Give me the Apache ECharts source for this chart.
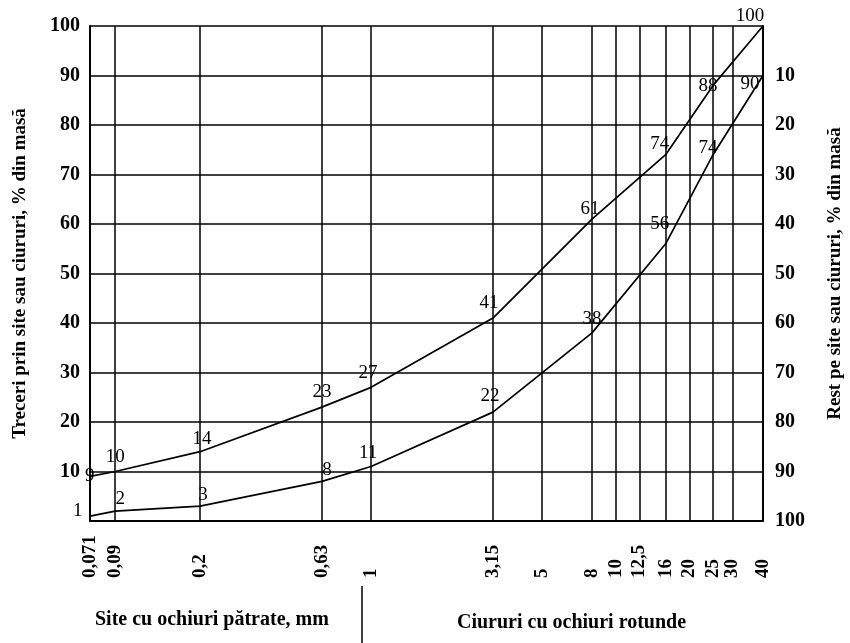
<!DOCTYPE html>
<html>
<head>
<meta charset="utf-8">
<script src="https://cdn.jsdelivr.net/npm/echarts@6/dist/echarts.min.js"></script>
<style>
  html, body { margin: 0; padding: 0; background: #fff; }
  #chart { width: 850px; height: 643px; }
</style>
</head>
<body>
<div id="chart"></div>
<script>
// Sieve openings drawn as vertical grid lines, with their printed labels
const sieveSizes = [0.071, 0.09, 0.2, 0.63, 1, 3.15, 5, 8, 10, 12.5, 16, 20, 25, 30, 40];
const sieveLabels = ['0,071', '0,09', '0,2', '0,63', '1', '3,15', '5', '8', '10', '12,5', '16', '20', '25', '30', '40'];

// Grading limits: sieve size (mm) and passing percentage
const curveSizes = [0.071, 0.09, 0.2, 0.63, 1, 3.15, 8, 16, 25, 40];
const upperPassing = [9, 10, 14, 23, 27, 41, 61, 74, 88, 100];
const lowerPassing = [1, 2, 3, 8, 11, 22, 38, 56, 74, 90];

// Percentage ticks, shared by both vertical axes
const percentMin = 0;
const percentMax = 100;
const percentStep = 10;

// Where each point's value label sits: [position, dx, dy]
const upperLabelPlace = [
  ['left', 6, 0], ['top', 0, -3], ['top', 2, -2], ['top', 0, -4], ['top', -3, -3],
  ['top', -4, -4], ['top', -2, 1], ['top', -6, 0], ['top', -5, 12], ['top', -13, 1]
];
const lowerLabelPlace = [
  ['left', -6, -5], ['top', 5, -1], ['top', 3, 0], ['top', 5, 0], ['top', -3, -3],
  ['top', -3, -5], ['top', 0, -3], ['top', -6, -9], ['top', -5, 4], ['left', -2, 9]
];

const SERIF = '"Liberation Serif", "DejaVu Serif", serif';

function labelFor(value) {
  let best = 0;
  for (let i = 1; i < sieveSizes.length; i++) {
    if (Math.abs(Math.log(sieveSizes[i] / value)) < Math.abs(Math.log(sieveSizes[best] / value))) best = i;
  }
  return sieveLabels[best];
}

function curveData(values, places) {
  return curveSizes.map((x, i) => ({
    value: [x, values[i]],
    label: {
      show: true,
      position: places[i][0],
      distance: 1,
      offset: [places[i][1], places[i][2]],
      fontFamily: SERIF,
      fontSize: 19,
      color: '#000',
      formatter: String(values[i])
    }
  }));
}

function curveSeries(name, values, places) {
  return {
    name: name,
    type: 'line',
    data: curveData(values, places),
    showSymbol: true,
    symbol: 'circle',
    symbolSize: 1,
    itemStyle: { color: '#000' },
    lineStyle: { color: '#000', width: 1.7 },
    label: { show: true, fontFamily: SERIF, fontSize: 19, color: '#000' },
    z: 5
  };
}

const chart = echarts.init(document.getElementById('chart'), null, { renderer: 'canvas' });

const option = {
  backgroundColor: '#ffffff',
  animation: false,
  grid: { left: 90, right: 87, top: 26, bottom: 122, show: false, outerBoundsMode: 'none', containLabel: false },
  xAxis: {
    type: 'log',
    logBase: 10,
    min: sieveSizes[0],
    max: sieveSizes[sieveSizes.length - 1],
    axisLine: { show: true, onZero: false, lineStyle: { color: '#000', width: 2 } },
    axisTick: { show: false, customValues: sieveSizes },
    splitLine: { show: false },
    minorSplitLine: { show: false },
    axisLabel: {
      customValues: sieveSizes,
      rotate: 90,
      align: 'left',
      verticalAlign: 'middle',
      margin: 57,
      fontFamily: SERIF,
      fontSize: 19,
      fontWeight: 'bold',
      color: '#000',
      hideOverlap: false,
      formatter: v => labelFor(v)
    }
  },
  yAxis: [
    {
      type: 'value',
      min: percentMin,
      max: percentMax,
      interval: percentStep,
      name: 'Treceri prin site sau ciururi, % din masă',
      nameLocation: 'middle',
      nameGap: 60,
      nameTextStyle: { fontFamily: SERIF, fontSize: 19, fontWeight: 'bold', color: '#000' },
      axisLine: { show: true, lineStyle: { color: '#000', width: 2 } },
      axisTick: { show: false },
      splitLine: { show: true, lineStyle: { color: '#000', width: 1.5 } },
      axisLabel: {
        margin: 10,
        fontFamily: SERIF,
        fontSize: 20,
        fontWeight: 'bold',
        color: '#000',
        formatter: v => (v === 0 ? '' : String(v))
      }
    },
    {
      type: 'value',
      inverse: true,
      position: 'right',
      min: percentMin,
      max: percentMax,
      interval: percentStep,
      name: 'Rest pe site sau ciururi, % din masă',
      nameLocation: 'middle',
      nameGap: 63,
      nameTextStyle: { fontFamily: SERIF, fontSize: 19, fontWeight: 'bold', color: '#000' },
      axisLine: { show: true, lineStyle: { color: '#000', width: 2 } },
      axisTick: { show: false },
      splitLine: { show: false },
      axisLabel: {
        margin: 12,
        fontFamily: SERIF,
        fontSize: 20,
        fontWeight: 'bold',
        color: '#000',
        formatter: v => (v === 0 ? '' : String(v))
      }
    }
  ],
  series: [
    {
      // vertical sieve lines
      type: 'line',
      data: [],
      silent: true,
      markLine: {
        silent: true,
        symbol: 'none',
        label: { show: false },
        lineStyle: { color: '#000', width: 1.5, type: 'solid' },
        data: sieveSizes.map(v => ({ xAxis: v }))
      }
    },
    curveSeries('upper', upperPassing, upperLabelPlace),
    curveSeries('lower', lowerPassing, lowerLabelPlace)
  ],
  graphic: [
    {
      type: 'text',
      left: 95,
      top: 610,
      style: { text: 'Site cu ochiuri pătrate, mm', font: 'bold 20px ' + SERIF, fill: '#000' }
    },
    {
      type: 'text',
      left: 457,
      top: 613,
      style: { text: 'Ciururi cu ochiuri rotunde', font: 'bold 20px ' + SERIF, fill: '#000' }
    },
    {
      type: 'line',
      shape: { x1: 362, y1: 586, x2: 362, y2: 643 },
      style: { stroke: '#000', lineWidth: 1.5 }
    }
  ]
};

chart.setOption(option);
</script>
</body>
</html>
